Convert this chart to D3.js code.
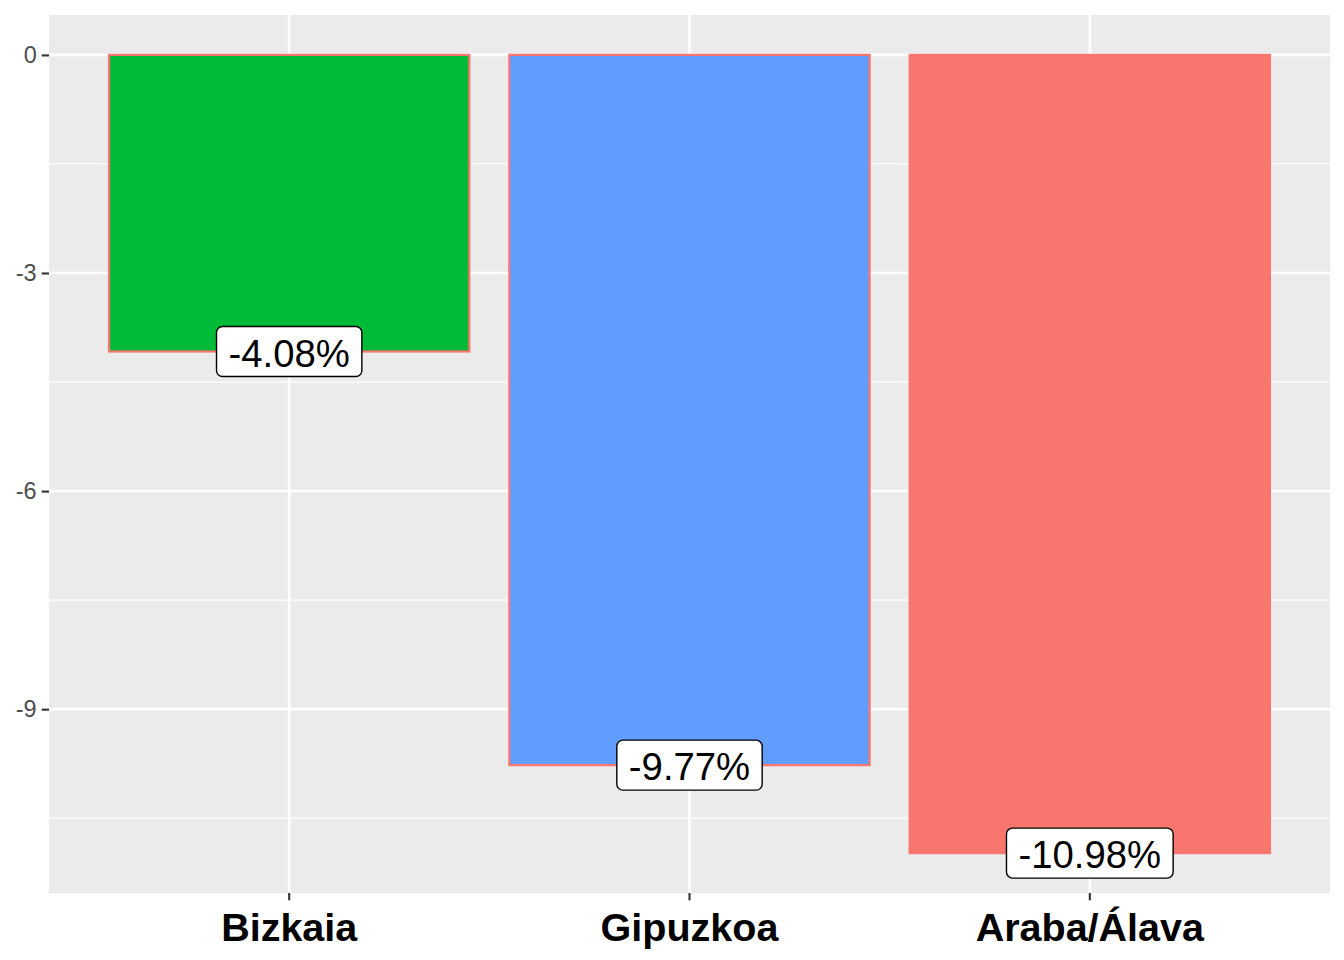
<!DOCTYPE html>
<html><head><meta charset="utf-8">
<script src="https://cdn.jsdelivr.net/npm/d3@7"></script>
<style>body{margin:0;background:#fff}svg{display:block;font-family:"Liberation Sans",Arial,sans-serif}</style>
</head><body><svg id="c" width="1344" height="960"></svg>
<script>
const categories = ["Bizkaia", "Gipuzkoa", "Araba/Álava"];
const values = [-4.08, -9.77, -10.98];
const labels = ["-4.08%", "-9.77%", "-10.98%"];
const colors = ["#00BA38", "#619CFF", "#F8766D"];
const yTicks = [0, -3, -6, -9];
const yMinor = [-1.5, -4.5, -7.5, -10.5];

const svg = d3.select("#c");
const L = 49, R = 1330, T = 15, B = 893;
const minV = d3.min(values), maxV = 0, span = maxV - minV;
const y = d3.scaleLinear().domain([minV - 0.05*span, maxV + 0.05*span]).range([B, T]);
const x = d3.scaleBand().domain(categories).range([L, R]).paddingInner(0.1).paddingOuter(0.15);
const cx = d => x(d) + x.bandwidth()/2;

svg.append("rect").attr("x", L).attr("y", T).attr("width", R-L).attr("height", B-T).attr("fill", "#EBEBEB");
const g = svg.append("g");
g.selectAll(".minor").data(yMinor).join("line").attr("x1", L).attr("x2", R)
  .attr("y1", d => y(d)).attr("y2", d => y(d)).attr("stroke", "#fff").attr("stroke-width", 1.3);
g.selectAll(".major").data(yTicks).join("line").attr("x1", L).attr("x2", R)
  .attr("y1", d => y(d)).attr("y2", d => y(d)).attr("stroke", "#fff").attr("stroke-width", 2.6);
g.selectAll(".vmaj").data(categories).join("line").attr("y1", T).attr("y2", B)
  .attr("x1", d => cx(d)).attr("x2", d => cx(d)).attr("stroke", "#fff").attr("stroke-width", 2.6);

// bars
svg.selectAll(".bar").data(categories).join("rect")
  .attr("x", d => x(d)).attr("width", x.bandwidth())
  .attr("y", (d,i) => y(Math.max(0, values[i])))
  .attr("height", (d,i) => Math.abs(y(values[i]) - y(0)))
  .attr("fill", (d,i) => colors[i]).attr("stroke", "#F8766D").attr("stroke-width", 2.2);

// labels
const lg = svg.selectAll(".lab").data(categories).join("g");
lg.each(function(d, i) {
  const gg = d3.select(this);
  const t = gg.append("text").attr("x", cx(d)).attr("y", y(values[i]))
    .attr("text-anchor", "middle").attr("dominant-baseline", "central")
    .attr("font-size", 38.3).attr("fill", "#000").text(labels[i]);
  const w = t.node().getComputedTextLength();
  const padX = 12, h = 50;
  gg.insert("rect", "text").attr("x", cx(d) - w/2 - padX).attr("y", y(values[i]) - h/2)
    .attr("width", w + 2*padX).attr("height", h).attr("rx", 6).attr("ry", 6)
    .attr("fill", "#fff").attr("stroke", "#000").attr("stroke-width", 1.4);
  t.attr("dy", "0.04em");
});

// y axis
const yAxis = svg.append("g").attr("transform", `translate(${L},0)`)
  .call(d3.axisLeft(y).tickValues(yTicks).tickSize(7.3).tickPadding(5).tickFormat(d => String(d)));
yAxis.select(".domain").remove();
yAxis.selectAll(".tick line").attr("stroke", "#333").attr("stroke-width", 2.1);
yAxis.selectAll(".tick text").attr("fill", "#4D4D4D").attr("font-size", 23.5).attr("font-family", "Liberation Sans, Arial, sans-serif");

// x axis
const xAxis = svg.append("g").attr("transform", `translate(0,${B})`)
  .call(d3.axisBottom(x).tickSize(7.3).tickPadding(13).offset(0));
xAxis.select(".domain").remove();
xAxis.selectAll(".tick line").attr("stroke", "#333").attr("stroke-width", 2.1);
xAxis.selectAll(".tick text").attr("fill", "#000").attr("font-size", 39.5).attr("font-weight", "bold")
  .attr("font-family", "Liberation Sans, Arial, sans-serif");
</script></body></html>
